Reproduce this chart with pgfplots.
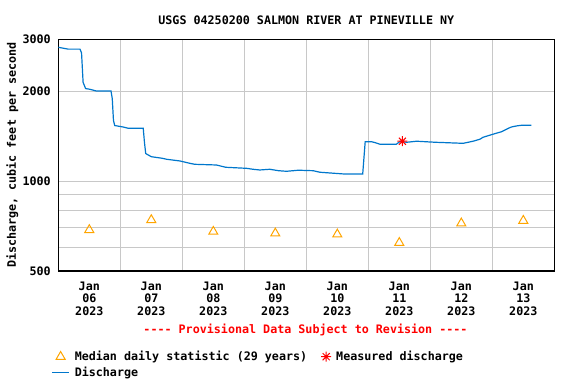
\documentclass[border=0pt]{standalone}
\usepackage{pgfplots}
\pgfplotsset{compat=1.18}
\usepackage{fontspec}
\setmainfont{DejaVu Sans Mono}[Ligatures=TeXOff]
\definecolor{usgsblue}{RGB}{0,119,204}
\definecolor{usgsorange}{RGB}{255,165,0}
\definecolor{gridgray}{RGB}{200,200,200}
\pgfdeclareplotmark{star8}{%
  \pgfpathmoveto{\pgfqpoint{-\pgfplotmarksize}{0pt}}\pgfpathlineto{\pgfqpoint{\pgfplotmarksize}{0pt}}%
  \pgfpathmoveto{\pgfqpoint{0pt}{-\pgfplotmarksize}}\pgfpathlineto{\pgfqpoint{0pt}{\pgfplotmarksize}}%
  \pgfpathmoveto{\pgfqpoint{-0.707\pgfplotmarksize}{-0.707\pgfplotmarksize}}\pgfpathlineto{\pgfqpoint{0.707\pgfplotmarksize}{0.707\pgfplotmarksize}}%
  \pgfpathmoveto{\pgfqpoint{-0.707\pgfplotmarksize}{0.707\pgfplotmarksize}}\pgfpathlineto{\pgfqpoint{0.707\pgfplotmarksize}{-0.707\pgfplotmarksize}}%
  \pgfusepathqstroke}
\newcommand\ff{\fontsize{11.7pt}{12.7pt}\selectfont\bfseries}
\begin{document}
\begin{tikzpicture}[font=\ff]
\path[use as bounding box] (-58.3pt,-113pt) rectangle (517.7pt,271pt);
\begin{axis}[
  scale only axis, width=496pt, height=231.7pt,
  xmin=0, xmax=8, ymode=log, ymin=500, ymax=3000,
  axis line style={line width=1.2pt},
  xtick={0.5,1.5,...,7.5},
  xticklabels={Jan\\06\\2023,Jan\\07\\2023,Jan\\08\\2023,Jan\\09\\2023,Jan\\10\\2023,Jan\\11\\2023,Jan\\12\\2023,Jan\\13\\2023},
  xticklabel style={align=center, font=\ff, yshift=-7pt},
  minor xtick={1,2,...,7}, xminorgrids,
  ytick={500,1000,2000,3000}, yticklabels={500,1000,2000,3000},
  minor ytick={600,700,800,900}, ymajorgrids, yminorgrids,
  yticklabel style={font=\ff, xshift=-4pt},
  major tick length=0pt, minor tick length=0pt,
  grid style={gridgray, line width=1pt},
  minor grid style={gridgray, line width=1pt},
  title={USGS 04250200 SALMON RIVER AT PINEVILLE NY},
  title style={at={(axis description cs:0.5,1)}, anchor=center, yshift=13.3pt, font=\ff},
  ylabel={Discharge, cubic feet per second},
  ylabel style={at={(axis description cs:0,0.5)}, anchor=center, yshift=46pt, font=\ff},
  legend columns=2,
  legend style={at={(axis description cs:0,0)}, anchor=north west, xshift=-7pt, yshift=-78pt,
    draw=none, fill=none, inner sep=0pt, font=\ff, row sep=1pt,
    /tikz/every even column/.append style={column sep=12pt}},
  legend cell align=left,
]
\addplot[only marks, mark=triangle, mark size=5.2pt, color=usgsorange, mark options={line width=1pt}] coordinates {
(0.5,687) (1.5,742) (2.5,678) (3.5,669) (4.5,664) (5.5,622) (6.5,723) (7.5,738)};
\addlegendentry{\hspace{3pt}Median daily statistic (29 years)}
\addplot[only marks, mark=star8, mark size=5pt, color=red, mark options={line width=1pt}] coordinates {(5.55,1364)};
\addlegendentry{\hspace{3pt}Measured discharge}
\addplot[color=usgsblue, line width=1.2pt] coordinates {
(0.000,2820) (0.08,2800) (0.16,2780) (0.35,2780) (0.375,2700) (0.40,2150) (0.44,2050) (0.5,2040)
(0.62,2010) (0.85,2010) (0.87,1900) (0.89,1600) (0.91,1540) (1.05,1522) (1.13,1507) (1.37,1507)
(1.39,1350) (1.41,1240) (1.50,1210) (1.67,1196) (1.75,1186) (1.96,1171) (2.12,1150) (2.2,1141)
(2.55,1135) (2.70,1115) (3.04,1106) (3.14,1098) (3.25,1092) (3.41,1098) (3.55,1086) (3.68,1081)
(3.79,1086) (3.87,1090) (4.11,1086) (4.22,1073) (4.60,1059) (4.91,1059) (4.93,1200) (4.95,1359)
(5.05,1359) (5.11,1349) (5.19,1332) (5.45,1332) (5.51,1360) (5.62,1353) (5.78,1364) (6.08,1353)
(6.53,1342) (6.69,1364) (6.80,1385) (6.85,1406) (6.95,1427) (7.04,1446) (7.15,1468) (7.26,1508)
(7.31,1523) (7.39,1535) (7.47,1543) (7.63,1543)};
\addlegendentry{\hspace{3pt}Discharge}
\end{axis}
\node[red, font=\ff] at (247.2pt,-59pt) {---- Provisional Data Subject to Revision ----};
\end{tikzpicture}
\end{document}
